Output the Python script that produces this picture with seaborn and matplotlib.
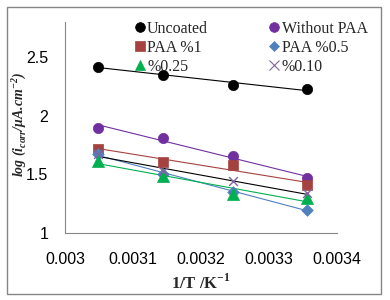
import numpy as np
import pandas as pd
import seaborn as sns
import matplotlib
matplotlib.use('Agg')
import matplotlib.pyplot as plt
from matplotlib.patches import Rectangle

# inverse temperature (1/T for 328, 318, 308, 298 K)
inv_T = [1/328, 1/318, 1/308, 1/298]

uncoated = [2.42, 2.35, 2.26, 2.23]
without_paa = [1.90, 1.81, 1.655, 1.465]
paa_1 = [1.72, 1.607, 1.58, 1.41]
paa_05 = [1.675, 1.50, 1.35, 1.20]
paa_025 = [1.61, 1.49, 1.33, 1.30]
paa_010 = [1.67, 1.53, 1.44, 1.34]

names = ['Uncoated', 'Without PAA', 'PAA %1', 'PAA %0.5', '%0.25', '%0.10']
series = [uncoated, without_paa, paa_1, paa_05, paa_025, paa_010]
colors = ['#000000', '#7030A0', '#A5423F', '#4F81BD', '#00B050', '#8064A2']
line_colors = ['#000000', '#7030A0', '#A5423F', '#4F81BD', '#00B050', '#000000']
markers = ['o', 'o', 's', 'D', '^', 'x']
sizes = [55, 55, 55, 35, 75, 40]
leg_sizes = [7, 7, 7, 5, 7, 7]

rows = []
for n, vals in zip(names, series):
    for x, y in zip(inv_T, vals):
        rows.append({'invT': x, 'logi': y, 'Sample': n})
data = pd.DataFrame(rows)

sns.set_style('white')
fig = plt.figure(figsize=(3.9, 3.0), dpi=100)
ax = fig.add_axes([65/390, 1 - 233/300, 272/390, 211/300])

handles = {}
for n, c, lc, m, s, ls in zip(names, colors, line_colors, markers, sizes, leg_sizes):
    sub = data[data['Sample'] == n]
    sns.regplot(data=sub, x='invT', y='logi', ax=ax, scatter=False, ci=None,
                line_kws={'color': lc, 'lw': 0.8})
    sns.scatterplot(data=sub, x='invT', y='logi', ax=ax, color=c, marker=m,
                    s=s, edgecolor=c if m != 'x' else None, linewidth=1 if m == 'x' else 0.5,
                    zorder=3, legend=False)
    handles[n] = plt.Line2D([], [], color=c, marker=m, linestyle='',
                            markersize=ls, markeredgewidth=0.8 if m == 'x' else 0.5)

ax.set_xlim(0.003, 0.0034)
ax.set_ylim(1, 2.8)
ax.set_xticks([0.003, 0.0031, 0.0032, 0.0033, 0.0034])
ax.set_xticklabels(['0.003', '0.0031', '0.0032', '0.0033', '0.0034'])
ax.set_yticks([1, 1.5, 2, 2.5])
ax.set_yticklabels(['1', '1.5', '2', '2.5'])

for side in ['top', 'right']:
    ax.spines[side].set_visible(False)
for side in ['left', 'bottom']:
    ax.spines[side].set_color('#868686')
    ax.spines[side].set_linewidth(0.8)

ax.tick_params(axis='both', direction='out', length=4, width=0.8, color='#868686',
               labelsize=11.5, labelcolor='black')
ax.tick_params(axis='x', pad=10)
ax.tick_params(axis='y', pad=8)
for lab in ax.get_xticklabels() + ax.get_yticklabels():
    lab.set_family('Liberation Sans')

ax.set_xlabel('1/T /K$^{\\mathregular{-1}}$', family='Liberation Serif',
              fontweight='bold', fontsize=12, labelpad=4)
ax.set_ylabel('log (i$_{\\mathregular{corr}}$/\u03bcA.cm$^{\\mathregular{-2}}$)',
              family='Liberation Serif', fontweight='bold', style='italic',
              fontsize=10)
ax.yaxis.set_label_coords(19/390, 1 - 124/300, transform=fig.transFigure)
ax.yaxis.label.set_verticalalignment('center')

order = ['Uncoated', 'PAA %1', '%0.25', 'Without PAA', 'PAA %0.5', '%0.10']
ax.legend([handles[k] for k in order], order, ncol=2, frameon=False,
          loc='upper left', bbox_to_anchor=(136/390, 1 - 21/300),
          bbox_transform=fig.transFigure, borderpad=0, borderaxespad=0,
          handlelength=0.5, handletextpad=0.2, columnspacing=3.9, labelspacing=0.18,
          prop={'family': 'Liberation Serif', 'size': 11.5})

fig.add_artist(Rectangle((7/390, 6/300), 374/390, 287/300, transform=fig.transFigure,
                         fill=False, edgecolor='#868686', linewidth=1))

fig.savefig('out.png', dpi=100)
